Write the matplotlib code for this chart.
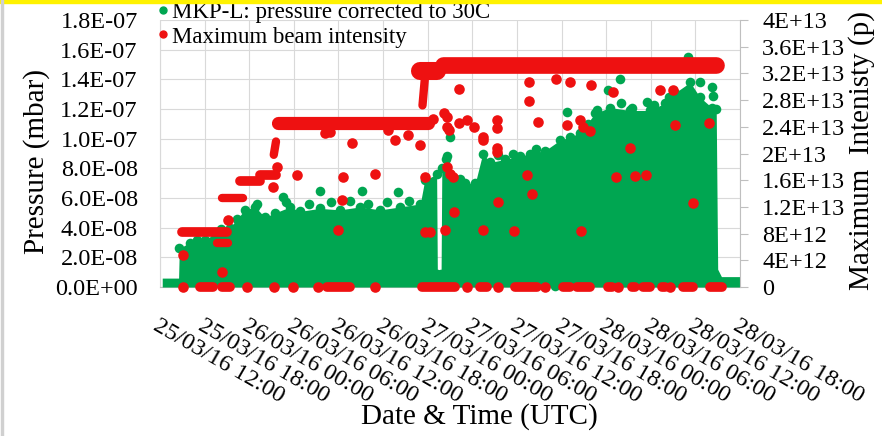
import matplotlib
matplotlib.use('Agg')
import matplotlib.pyplot as plt
from matplotlib.lines import Line2D
from matplotlib.patches import Rectangle

plt.rcParams['font.family'] = ['Liberation Serif', 'DejaVu Serif']

# ---------------- data ----------------
# x axis: hours after 25/03/16 12:00 (UTC)
tick_hours = [0, 6, 12, 18, 24, 30, 36, 42, 48, 54, 60, 66, 72, 78]
tick_labels = ['25/03/16 12:00', '25/03/16 18:00', '26/03/16 00:00', '26/03/16 06:00',
               '26/03/16 12:00', '26/03/16 18:00', '27/03/16 00:00', '27/03/16 06:00',
               '27/03/16 12:00', '27/03/16 18:00', '28/03/16 00:00', '28/03/16 06:00',
               '28/03/16 12:00', '28/03/16 18:00']

left_ticks = [0, 2e-8, 4e-8, 6e-8, 8e-8, 1.0e-7, 1.2e-7, 1.4e-7, 1.6e-7, 1.8e-7]
left_labels = ['0.0E+00', '2.0E-08', '4.0E-08', '6.0E-08', '8.0E-08', '1.0E-07',
               '1.2E-07', '1.4E-07', '1.6E-07', '1.8E-07']
right_ticks = [0, 4e12, 8e12, 1.2e13, 1.6e13, 2e13, 2.4e13, 2.8e13, 3.2e13, 3.6e13, 4e13]
right_labels = ['0', '4E+12', '8E+12', '1.2E+13', '1.6E+13', '2E+13', '2.4E+13',
                '2.8E+13', '3.2E+13', '3.6E+13', '4E+13']

# MKP-L pressure (dense cloud): upper envelope, units of 1e-8 mbar
green_hours = [0.3, 2.5, 2.6, 4.0, 6.1, 7.4, 9.4, 11.4, 12.8, 14.1, 15.5, 17.5, 18.8,
               21.5, 24.2, 26.9, 29.6, 32.3, 35.0, 35.6, 37.2, 37.3, 37.8, 37.9, 38.4,
               39.0, 40.3, 41.0, 42.4, 43.4, 44.4, 46.4, 48.4, 49.8, 51.8, 53.8, 55.1,
               56.5, 58.5, 60.5, 63.2, 65.9, 67.9, 69.3, 71.3, 72.6, 74.2, 74.8, 75.0,
               75.5, 78.0]
green_top = [0.6, 0.6, 2.6, 3.0, 3.2, 3.6, 4.0, 5.2, 5.4, 4.7, 5.0, 5.4, 5.1,
             5.3, 5.2, 5.4, 5.2, 5.4, 5.6, 7.2, 7.6, 0.9, 0.9, 8.0, 8.6,
             7.6, 7.3, 7.0, 7.0, 9.0, 8.4, 8.6, 8.8, 9.0, 9.2, 9.9, 10.1,
             10.4, 11.7, 12.1, 11.9, 11.9, 12.4, 13.1, 13.8, 12.8, 12.1, 12.0, 1.2,
             0.7, 0.7]
# isolated pressure points on / above the cloud edge (1e-8 mbar)
green_out_hours = [16.5, 21.5, 27.2, 32.0, 38.6, 39.0, 54.7, 58.8, 60.2, 61.9,
                   63.5, 65.5, 71.0, 72.6, 74.2, 74.4, 53.1,
                   13.0, 17.0, 20.0, 23.0, 25.5, 28.0, 30.5, 33.5, 5.0, 8.2, 10.3,
                   45.5, 47.5, 50.5, 57.5, 62.0, 66.5, 68.5]
green_out_vals = [6.1, 6.5, 6.5, 6.4, 8.8, 10.1, 11.8, 11.9, 13.3, 14.0,
                  12.1, 12.5, 15.5, 13.8, 13.5, 12.9, 0.1,
                  5.6, 5.7, 5.6, 5.7, 5.8, 5.6, 5.7, 5.8, 3.2, 3.9, 4.6,
                  8.9, 9.0, 9.3, 11.0, 12.4, 12.3, 12.8]

# Maximum beam intensity: dense bands (start h, end h, levels in 1e12 p)
red_band_start = [3.0, 7.6, 8.3, 10.8, 13.5, 15.3, 15.9, 35.0, 35.3, 38.0]
red_band_end = [9.0, 9.2, 11.2, 13.5, 15.6, 15.6, 36.0, 37.2, 35.6, 74.8]
red_band_level0 = [8.2, 6.6, 13.3, 15.9, 16.8, 19.8, 24.6, 32.4, 27.2, 33.3]
red_band_level1 = [8.2, 6.6, 13.3, 15.9, 16.8, 21.8, 24.6, 32.4, 31.0, 33.3]
red_band_width = [7, 6, 6, 7, 7, 6, 9.5, 13, 6, 12]
# zero-intensity runs
red_zero_start = [5.4, 8.3, 22.5, 35.2, 43.0, 47.7, 54.2, 56.1, 60.2, 63.5, 65.0,
                  67.5, 70.3, 74.0]
red_zero_end = [7.1, 9.4, 25.6, 39.7, 44.0, 50.7, 55.1, 57.8, 60.8, 63.9, 65.9,
                67.9, 71.7, 75.6]
red_zero_points = [3.1, 11.7, 15.3, 17.9, 21.2, 28.9, 41.3, 45.5, 51.8, 61.6, 68.6]
# isolated intensity points (1e12 p)
red_out_hours = [3.1, 8.3, 9.1, 15.2, 15.7, 18.4, 23.9, 24.6, 24.5, 25.8, 28.9, 31.6,
                 33.4, 35.0, 35.6, 35.6, 36.7, 22.2, 22.9, 30.7, 38.6, 38.6, 40.2,
                 40.2, 41.3, 42.2, 43.4, 43.4, 45.3, 45.3, 45.3, 45.3, 49.6, 49.6,
                 50.8, 53.3, 55.1, 54.7, 56.5, 56.9, 57.8, 58.0, 60.9, 67.2, 69.0,
                 69.3, 73.8, 63.2, 61.3, 63.9, 65.4, 49.4, 50.0, 45.5, 39.5, 38.6,
                 39.0, 39.4, 71.7, 38.3, 43.4, 47.6, 56.6, 36.3, 38.2, 38.9]
red_out_vals = [4.8, 2.2, 10.0, 15.0, 18.0, 16.8, 8.5, 16.5, 13.0, 21.6, 17.0, 22.0,
                22.8, 21.3, 16.5, 8.2, 25.2, 23.0, 23.2, 23.5, 25.5, 24.0, 29.7,
                24.5, 25.0, 24.0, 22.5, 22.0, 25.0, 23.8, 20.8, 20.2, 30.7, 27.9,
                24.7, 31.2, 30.7, 24.3, 25.0, 24.0, 23.4, 30.3, 29.2, 29.5, 29.5,
                24.3, 24.6, 20.8, 16.5, 16.6, 16.8, 16.8, 14.0, 12.7, 11.2, 18.0,
                17.0, 16.5, 12.6, 8.5, 8.5, 8.4, 8.4, 8.2, 26.0, 23.5]

GREEN = '#00A651'
RED = '#EE1111'
E8 = 1e-8
E12 = 1e12

# ---------------- figure ----------------
W, H = 882, 436
fig = plt.figure(figsize=(W / 100, H / 100), dpi=100)
fig.patch.set_facecolor('white')
ax = fig.add_axes([160 / W, 1 - 287 / H, 580 / W, 267 / H])
ax2 = ax.twinx()

# green cloud
gt = [v * E8 for v in green_top]
ax.fill_between(green_hours, 0, gt, color=GREEN, linewidth=0, zorder=3, clip_on=False)
ax.scatter(green_hours[2:-3], gt[2:-3], s=48, color=GREEN, linewidths=0, zorder=3,
           clip_on=False)
ax.scatter(green_out_hours, [v * E8 for v in green_out_vals], s=48, color=GREEN,
           linewidths=0, zorder=3, clip_on=False)

ax.set_xlim(0, 78)
ax.set_ylim(0, 1.8e-7)
ax.set_xticks(tick_hours)
ax.set_xticklabels(tick_labels, rotation=-30, ha='left', va='top',
                   rotation_mode='anchor', fontsize=17.5)
ax.set_yticks(left_ticks)
ax.set_yticklabels(left_labels, fontsize=17.5)
ax.tick_params(axis='x', length=0, pad=20)
ax.tick_params(axis='y', length=0, pad=16)
ax.grid(True, color='#D9D9D9', linewidth=0.8, zorder=0)
ax.set_axisbelow(True)
for s in ['top', 'right']:
    ax.spines[s].set_visible(False)
ax.spines['left'].set_color('#D9D9D9')
ax.spines['bottom'].set_color('#BFBFBF')

# red intensity
for h0, h1, l0, l1, lw in zip(red_band_start, red_band_end, red_band_level0,
                              red_band_level1, red_band_width):
    ax2.plot([h0, h1], [l0 * E12, l1 * E12], color=RED, linewidth=lw,
             solid_capstyle='round', zorder=4, clip_on=False)
for h0, h1 in zip(red_zero_start, red_zero_end):
    ax2.plot([h0, h1], [0, 0], color=RED, linewidth=7, solid_capstyle='round',
             zorder=4, clip_on=False)
ax2.scatter(red_zero_points, [0] * len(red_zero_points), s=58, color=RED,
            linewidths=0, zorder=4, clip_on=False)
ax2.scatter(red_out_hours, [v * E12 for v in red_out_vals], s=58, color=RED,
            linewidths=0, zorder=4, clip_on=False)

ax2.set_ylim(0, 4e13)
ax2.set_yticks(right_ticks)
ax2.set_yticklabels(right_labels, fontsize=17.5)
ax2.tick_params(axis='y', length=6, width=0.8, color='#BFBFBF', pad=10, direction='out')
for s in ['top', 'left', 'bottom']:
    ax2.spines[s].set_visible(False)
ax2.spines['right'].set_color('#BFBFBF')

# axis titles
fig.text(37 / W, 1 - 161 / H, 'Pressure (mbar)', rotation=90, ha='center',
         va='center', fontsize=21)
fig.text(862 / W, 1 - 150 / H, 'Maximum  Intenisty (p)', rotation=90, ha='center',
         va='center', fontsize=21)
fig.text(479 / W, 1 - 417 / H, 'Date & Time (UTC)', ha='center', va='center',
         fontsize=21)

# legend
handles = [Line2D([], [], marker='o', linestyle='none', color=GREEN, markersize=5),
           Line2D([], [], marker='o', linestyle='none', color=RED, markersize=5)]
leg = fig.legend(handles, ['MKP-L: pressure corrected to 30C', 'Maximum beam intensity'],
                 loc='upper left', bbox_to_anchor=(156 / W, 1 - 2 / H),
                 bbox_transform=fig.transFigure, frameon=False, fontsize=16.5,
                 handletextpad=0.1, handlelength=0.6, borderpad=0, borderaxespad=0,
                 labelspacing=0.15)

# frame decorations
fig.add_artist(Rectangle((0, 1 - 3 / H), 1, 3 / H, transform=fig.transFigure,
                         color='#FFF200', zorder=10))
fig.add_artist(Rectangle((1 / W, 0), 2 / W, 1, transform=fig.transFigure,
                         color='#D0D0D0', zorder=10))

fig.savefig('out.png', dpi=100)
